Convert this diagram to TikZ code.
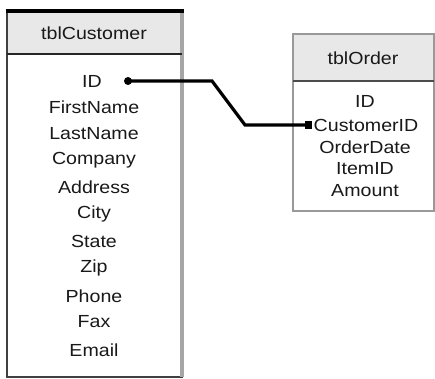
\documentclass[tikz,border=0pt]{standalone}
\usepackage{fontspec}
\setmainfont{Liberation Sans}[FakeStretch=1.12]
\begin{document}
\begin{tikzpicture}[x=1pt,y=-1pt,
  fld/.style={inner sep=0pt,text=black!90,font=\fontsize{17.5}{20}\selectfont,anchor=center},
  hdr/.style={fld},
  rel/.style={line width=3.2pt,black,line join=miter}]
\useasboundingbox[fill=white] (0,0) rectangle (435,378);
% tblCustomer
\fill[gray!18] (7,11) rectangle (182,54);
\draw[line width=2.2pt,black!75] (7,11) rectangle (182,377);
\draw[line width=3.2pt,gray!70] (182,11) -- (182,377);
\draw[line width=3.2pt,black] (5.5,11) -- (183.5,11);
\draw[line width=2.2pt,black!85] (7,54) -- (182,54);
\node[hdr] (tc) at (94,33) {tblCustomer};
\node[fld] (cID) at (92,81) {ID};
\node[fld] (cFN) at (94,107.5) {FirstName};
\node[fld] (cLN) at (94,134) {LastName};
\node[fld] (cCo) at (94,160.5) {Company};
\node[fld] (cAd) at (94,187) {Address};
\node[fld] (cCi) at (94,214) {City};
\node[fld] (cSt) at (94,241) {State};
\node[fld] (cZi) at (94,268) {Zip};
\node[fld] (cPh) at (94,296) {Phone};
\node[fld] (cFa) at (94,322) {Fax};
\node[fld] (cEm) at (94,350) {Email};
% tblOrder
\fill[gray!18] (293,34) rectangle (434,81);
\draw[line width=2.2pt,gray!80] (293,34) rectangle (434,211);
\draw[line width=2.2pt,black!70] (293,81) -- (434,81);
\node[hdr] (to) at (363,58) {tblOrder};
\node[fld] (oID) at (365,101) {ID};
\node[fld] (oCu) at (366,125) {CustomerID};
\node[fld] (oOD) at (365,147) {OrderDate};
\node[fld] (oIt) at (365,169) {ItemID};
\node[fld] (oAm) at (365,191) {Amount};
% relationship
\coordinate (pA) at ([xshift=26pt]cID.east);
\coordinate (pB) at ([xshift=-5pt]oCu.west);
\fill (pA) circle (4pt);
\draw[rel] (pA) -- (212,81) -- (245,125) -- (pB);
\fill (pB) ++(-3.8,-3.8) rectangle ++(7.6,7.6);
\end{tikzpicture}
\end{document}
